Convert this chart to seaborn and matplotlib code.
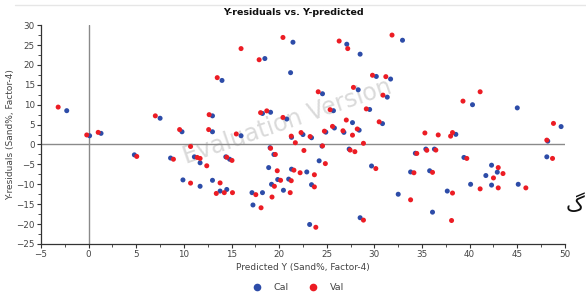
import numpy as np
import pandas as pd
import matplotlib
matplotlib.use("Agg")
import matplotlib.pyplot as plt
import seaborn as sns
from matplotlib.ticker import MultipleLocator
from matplotlib.lines import Line2D

# ---- data ----
cal_x = [-2.3, 0.1, 1.3, 4.8, 7.5, 8.6, 9.8, 9.9, 11.1, 11.7, 11.7, 13.0, 13.0, 13.0,
         14.0, 13.8, 14.4, 14.8, 14.5, 16.0, 17.15, 17.25, 18.25, 18.25, 18.5, 18.9,
         19.1, 19.05, 19.45, 19.2, 19.85, 20.45, 20.8, 21.0, 21.2, 21.45, 21.3, 21.3,
         22.5, 22.9, 23.4, 23.2, 23.4, 24.2, 24.5, 24.55, 24.9, 25.7, 25.8, 26.8, 27.1,
         27.35, 27.7, 28.3, 28.4, 28.5, 28.5, 29.5, 29.7, 30.2, 30.85, 31.35, 31.7, 32.5,
         32.95, 33.8, 34.3, 35.4, 35.8, 36.1, 36.3, 37.65, 38.55, 39.4, 40.1, 40.3, 41.7,
         42.3, 42.3, 42.9, 45.0, 45.1, 48.1, 48.2, 49.6]
cal_y = [8.5, 2.2, 2.8, -2.6, 6.6, -3.4, 3.2, -8.9, -3.1, -4.6, -10.5, 7.2, 3.2, -9.0,
         16.1, -11.7, -3.1, -3.7, -11.3, 2.2, -12.1, -15.2, -12.1, 7.8, 21.6, -5.8,
         8.1, -0.8, -2.5, -10.0, -8.8, -11.5, 6.4, -8.7, 18.05, 25.7, 1.8, -6.2,
         2.5, -6.9, 1.7, -20.1, -10.1, -4.1, -0.4, 12.75, 3.1, 8.5, 4.15, 3.05, 25.2,
         -1.15, 5.5, 13.75, 3.6, 22.7, -18.4, 8.8, -5.4, 17.1, 5.25, 11.9, 16.45, -12.5,
         26.2, -6.9, -2.2, -1.15, -6.6, -17.0, -1.15, -11.7, 2.55, -3.25, -10.0, 10.0, -7.8,
         -5.2, -10.2, -6.95, 9.2, -10.0, -3.1, 0.85, 4.5]

val_x = [-3.2, -0.2, 1.0, 5.05, 7.0, 8.9, 9.55, 10.7, 10.7, 11.4, 11.7, 12.4, 12.65, 12.6,
         13.4, 13.5, 13.8, 14.24, 14.5, 15.05, 15.1, 15.5, 16.0, 17.55, 17.9, 18.05, 18.1,
         18.7, 19.1, 19.6, 19.25, 19.5, 19.8, 20.15, 20.4, 20.4, 21.16, 21.27, 21.27, 21.55,
         21.7, 22.2, 22.3, 22.6, 23.25, 23.7, 23.7, 23.85, 24.1, 24.55, 24.75, 24.85, 25.35,
         25.6, 26.3, 26.7, 27.05, 27.2, 27.45, 27.7, 27.8, 27.95, 28.2, 28.85, 28.85, 29.15,
         29.8, 30.15, 30.5, 30.9, 31.2, 31.85, 33.8, 34.15, 34.45, 35.3, 35.5, 36.1, 36.45,
         36.7, 38.0, 38.1, 38.2, 38.2, 39.3, 39.7, 41.1, 41.1, 42.5, 43.0, 43.0, 43.5, 45.9,
         48.1, 48.7, 48.8]
val_y = [9.4, 2.4, 3.05, -3.0, 7.2, -3.7, 3.75, -0.5, -9.7, -3.25, -3.5, -5.35, 7.5, 3.75,
         -12.3, 16.8, -9.65, -12.1, -3.2, -4.0, -12.1, 2.65, 24.1, -12.6, 21.3, 8.0, -15.9,
         8.45, -0.95, -2.5, -13.2, -10.5, -6.6, -9.0, 26.9, 6.8, -12.1, -9.1, 2.1, -6.45,
         0.45, -7.1, 3.0, -1.5, 2.0, -7.6, -10.65, -20.8, 13.25, -0.35, 3.35, -4.8, 8.75,
         4.55, 26.0, 3.45, 6.15, 24.1, -1.4, 2.35, 14.35, -1.8, 3.9, 0.3, -19.0, 8.95,
         17.4, -6.05, 5.7, 12.4, 17.05, 27.5, -13.9, -7.1, -2.25, 2.9, -1.45, -7.0, -1.4,
         2.4, 2.1, -19.1, 3.0, -12.2, 10.9, -3.5, 13.25, -11.15, -8.4, -5.8, -10.9, -7.3, -10.9,
         1.1, -3.5, 5.3]

series_names = ["Cal", "Val"]
x_ticks = [-5, 0, 5, 10, 15, 20, 25, 30, 35, 40, 45, 50]
y_ticks = [-25, -20, -15, -10, -5, 0, 5, 10, 15, 20, 25, 30]

df = pd.concat([
    pd.DataFrame({"x": cal_x, "y": cal_y, "set": series_names[0]}),
    pd.DataFrame({"x": val_x, "y": val_y, "set": series_names[1]}),
], ignore_index=True)

sns.set_style("white")
plt.rcParams["font.family"] = ["DejaVu Sans"]

fig = plt.figure(figsize=(5.86, 2.99), dpi=100)
ax = fig.add_axes([0.070, 0.184, 0.894, 0.732])

palette = {"Cal": "#2D4CA8", "Val": "#EC1C24"}

# watermark
ax.text(0.47, 0.56, "Evaluation Version", transform=ax.transAxes, fontsize=17,
        color="#dadada", rotation=19, ha="center", va="center", zorder=0)

ax.axvline(0, color="#8a8a8a", lw=1.0, zorder=1)
ax.axhline(0, color="#8a8a8a", lw=1.0, zorder=1)

sns.scatterplot(data=df, x="x", y="y", hue="set", palette=palette, s=13,
                linewidth=0, ax=ax, zorder=3, legend=False)

ax.set_xlim(-5, 50)
ax.set_ylim(-25, 30)
ax.set_xticks(x_ticks)
ax.set_yticks(y_ticks)
ax.xaxis.set_minor_locator(MultipleLocator(2.5))
ax.yaxis.set_minor_locator(MultipleLocator(2.5))
ax.tick_params(axis="both", which="major", direction="out", length=3, width=0.8,
               color="#333333", labelsize=6.3, labelcolor="#444444", pad=1.5)
ax.tick_params(axis="both", which="minor", direction="out", length=2, width=0.6,
               color="#333333")
ax.tick_params(bottom=True, left=True, which="both")

for s in ["top", "right"]:
    ax.spines[s].set_visible(False)
for s in ["left", "bottom"]:
    ax.spines[s].set_color("#333333")
    ax.spines[s].set_linewidth(0.9)

ax.set_xlabel("Predicted Y (Sand%, Factor-4)", fontsize=6.5, color="#444444", labelpad=3)
ax.set_ylabel("Y-residuals (Sand%, Factor-4)", fontsize=6.5, color="#444444", labelpad=1)

fig.text(0.5, 0.958, "Y-residuals vs. Y-predicted", ha="center", va="center",
         fontsize=6.8, fontweight="bold", color="#111111")

# faint top rule from the page
fig.add_artist(Line2D([0.025, 1.0], [0.983, 0.983], color="#e6e6e6", lw=1.0))

handles = [Line2D([0], [0], marker="o", ls="", color=palette[n], markersize=5.5,
                  markeredgewidth=0) for n in series_names]
fig.legend(handles, series_names, loc="center", bbox_to_anchor=(0.505, 0.037), ncol=2,
           frameon=False, fontsize=6.8, handletextpad=0.8, columnspacing=1.6,
           labelcolor="#444444")

# fragment of page text at the right edge
fig.text(0.982, 0.315, "گ", fontsize=15, color="#111111", ha="center", va="center",
         family=["DejaVu Sans"])

fig.savefig("out.png", dpi=100)
